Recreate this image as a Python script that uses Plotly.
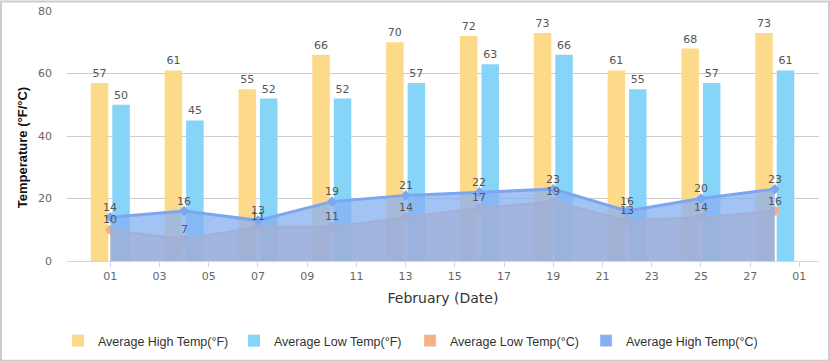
import plotly.graph_objects as go

dates = ["2023-02-01", "2023-02-04", "2023-02-07", "2023-02-10", "2023-02-13",
         "2023-02-16", "2023-02-19", "2023-02-22", "2023-02-25", "2023-02-28"]
high_f = [57, 61, 55, 66, 70, 72, 73, 61, 68, 73]
low_f = [50, 45, 52, 52, 57, 63, 66, 55, 57, 61]
low_c = [10, 7, 11, 11, 14, 17, 19, 13, 14, 16]
high_c = [14, 16, 13, 19, 21, 22, 23, 16, 20, 23]

names = ["Average High Temp(°F)", "Average Low Temp(°F)",
         "Average Low Temp(°C)", "Average High Temp(°C)"]
colors = ["#FDDA8A", "#87D4F9", "#F4B183", "#86AFF2"]

# layout geometry (pixels)
W, H = 830, 362
L, R, T, B = 67, 11, 10.5, 101
pw = W - L - R
ph = H - T - B
px_per_day = 24.61
ms_px = 86400000 / px_per_day

lab_font = dict(family="DejaVu Sans", size=11, color="#555555")

fig = go.Figure()
fig.add_trace(go.Bar(x=dates, y=high_f, name=names[0], marker_color=colors[0],
                     marker_line_width=0, width=17.5 * ms_px, offset=-19.5 * ms_px,
                     text=high_f, textposition="outside", textfont=lab_font,
                     cliponaxis=False, legendrank=1))
fig.add_trace(go.Bar(x=dates, y=low_f, name=names[1], marker_color=colors[1],
                     marker_line_width=0, width=17.5 * ms_px, offset=2 * ms_px,
                     text=low_f, textposition="outside", textfont=lab_font,
                     cliponaxis=False, legendrank=2))
fig.add_trace(go.Scatter(x=dates, y=low_c, name=names[2], mode="lines+markers",
                         line=dict(color=colors[2], width=2),
                         marker=dict(symbol="circle", size=9, color=colors[2]),
                         fill="tozeroy", fillcolor="rgba(244,177,131,0.75)",
                         showlegend=False, cliponaxis=False))
fig.add_trace(go.Scatter(x=dates, y=high_c, name=names[3], mode="lines+markers",
                         line=dict(color="#7CA6F0", width=3),
                         marker=dict(symbol="diamond", size=8, color="#7CA6F0"),
                         fill="tozeroy", fillcolor="rgba(134,175,242,0.75)",
                         showlegend=False, cliponaxis=False))
# legend entries for the °C series (square symbols)
fig.add_trace(go.Bar(x=[None], y=[None], name=names[2], marker_color=colors[2],
                     legendrank=3))
fig.add_trace(go.Bar(x=[None], y=[None], name=names[3], marker_color=colors[3],
                     legendrank=4))

def py(p):
    return (H - B - p) / ph

def pxf(p):
    return (p - L) / pw

# data labels for the °C series, drawn on top of the areas
label_anns = []
for series in (low_c, high_c):
    for d, v in zip(dates, series):
        label_anns.append(dict(x=d, y=v, xref="x", yref="y", text=str(v),
                               showarrow=False, yshift=10, xanchor="center",
                               yanchor="middle", font=lab_font))

fig.update_layout(
    width=W, height=H,
    margin=dict(l=L, r=R, t=T, b=B, autoexpand=False),
    paper_bgcolor="white", plot_bgcolor="white",
    barmode="overlay",
    showlegend=True,
    legend=dict(orientation="h", xref="container", yref="container",
                x=410 / W, xanchor="center", y=1 - 341 / H, yanchor="middle",
                entrywidth=131, entrywidthmode="pixels",
                font=dict(family="Liberation Sans", size=12.5, color="#333333"),
                traceorder="normal", itemclick=False, itemdoubleclick=False),
    xaxis=dict(type="date", automargin=False,
               range=["2023-01-30 05:45", "2023-03-01 19:10"],
               tick0="2023-02-01", dtick=2 * 86400000, tickformat="%d",
               showgrid=False, showline=True, linecolor="#ccd6eb", linewidth=1,
               ticks="outside", ticklen=5, tickcolor="#ccd6eb",
               tickfont=dict(family="DejaVu Sans", size=11, color="#666666"),
               title=dict(text="February (Date)", standoff=10,
                          font=dict(family="DejaVu Sans", size=14, color="#333333")),
               zeroline=False),
    yaxis=dict(range=[0, 80], tickvals=[0, 20, 40, 60, 80], showgrid=True,
               automargin=False,
               gridcolor="#cccccc", gridwidth=1, zeroline=False, showline=False,
               ticks="", ticklabelstandoff=14,
               tickfont=dict(family="DejaVu Sans", size=11, color="#666666")),
    annotations=label_anns + [
        dict(text="<b>Temperature (°F/°C)</b>", textangle=-90,
             xref="paper", yref="paper", x=pxf(22), y=py(148),
             showarrow=False, xanchor="center", yanchor="middle",
             font=dict(family="Liberation Sans", size=13, color="#111111"))],
    shapes=[dict(type="rect", xref="paper", yref="paper",
                 x0=pxf(1), x1=pxf(829), y0=py(361), y1=py(1),
                 line=dict(color="#cccccc", width=2), fillcolor="rgba(0,0,0,0)",
                 layer="below")],
)

fig.write_html("out.html", config={"displayModeBar": False},
               post_script="document.body.style.margin='0';")
